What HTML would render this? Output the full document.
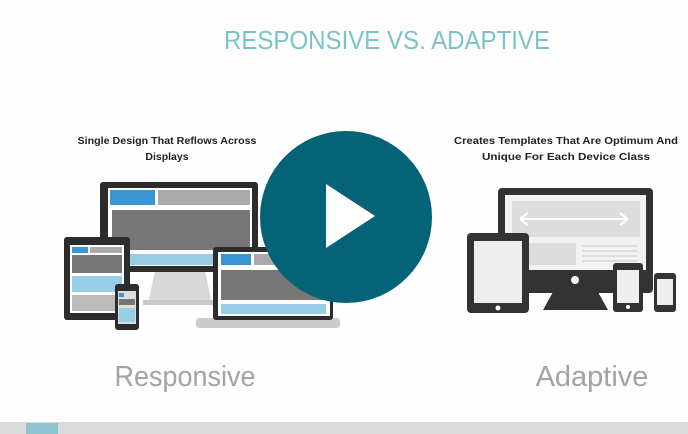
<!DOCTYPE html>
<html><head><style>html,body{margin:0;padding:0;background:#fff}svg{display:block}</style></head>
<body>
<svg width="688" height="434" viewBox="0 0 688 434" xmlns="http://www.w3.org/2000/svg" font-family="Liberation Sans, sans-serif">
<rect width="688" height="434" fill="#fefefe"/>
<text x="387" y="49" font-size="26" fill="#7cc3c8" text-anchor="middle" textLength="326" lengthAdjust="spacingAndGlyphs">RESPONSIVE VS. ADAPTIVE</text>
<g font-size="10.5" font-weight="bold" fill="#222" text-anchor="middle">
<text x="167" y="144" textLength="179" lengthAdjust="spacingAndGlyphs">Single Design That Reflows Across</text>
<text x="167" y="160">Displays</text>
<text x="566" y="144" textLength="224" lengthAdjust="spacingAndGlyphs">Creates Templates That Are Optimum And</text>
<text x="566" y="160" textLength="168" lengthAdjust="spacingAndGlyphs">Unique For Each Device Class</text>
</g>
<!-- responsive monitor -->
<path d="M155 270 h50 l6 30 h-62z" fill="#d8d8d8"/>
<rect x="143" y="300" width="72" height="5" fill="#c8c8c8"/>
<rect x="100" y="182" width="158" height="90" rx="3" fill="#2c2c2c"/>
<rect x="108" y="188" width="144" height="78" fill="#fff"/>
<rect x="110" y="190" width="45" height="15" fill="#3b95d3"/>
<rect x="158" y="190" width="92" height="15" fill="#aaa"/>
<rect x="112" y="210" width="138" height="40" fill="#777"/>
<rect x="112" y="254" width="138" height="11" fill="#98cde6"/>
<!-- tablet -->
<rect x="64" y="237" width="66" height="83" rx="3" fill="#2c2c2c"/>
<rect x="70" y="245" width="54" height="68" fill="#fff"/>
<rect x="72" y="247" width="16" height="6" fill="#3b95d3"/>
<rect x="90" y="247" width="32" height="6" fill="#aaa"/>
<rect x="72" y="255" width="50" height="18" fill="#777"/>
<rect x="72" y="276" width="50" height="16" fill="#98cde6"/>
<rect x="72" y="295" width="50" height="16" fill="#bbb"/>
<!-- phone -->
<rect x="115" y="284" width="24" height="46" rx="3" fill="#2c2c2c"/>
<rect x="118" y="291" width="18" height="33" fill="#ddd"/>
<rect x="119" y="293" width="5" height="4" fill="#3b95d3"/>
<rect x="119" y="299" width="16" height="6" fill="#777"/>
<rect x="119" y="308" width="16" height="14" fill="#98cde6"/>
<!-- laptop -->
<rect x="196" y="318" width="144" height="10" rx="3" fill="#ccc"/>
<rect x="213" y="247" width="120" height="73" rx="3" fill="#2c2c2c"/>
<rect x="218" y="252" width="112" height="64" fill="#fff"/>
<rect x="221" y="254" width="30" height="11" fill="#3b95d3"/>
<rect x="254" y="254" width="70" height="11" fill="#aaa"/>
<rect x="221" y="270" width="105" height="30" fill="#777"/>
<rect x="221" y="304" width="105" height="10" fill="#98cde6"/>
<!-- adaptive monitor -->
<path d="M553 292 h45 l10 18 h-65z" fill="#333"/>
<rect x="498" y="188" width="155" height="105" rx="4" fill="#333"/>
<rect x="505" y="195" width="141" height="75" fill="#f2f2f2"/>
<rect x="512" y="201" width="128" height="36" fill="#ddd"/>
<path d="M520 219 h108 M520 219 l8 -6 M520 219 l8 6 M628 219 l-8 -6 M628 219 l-8 6" stroke="#fff" stroke-width="2" fill="none"/>
<rect x="528" y="243" width="48" height="22" fill="#ddd"/>
<path d="M582 246 h55 M582 251 h55 M582 256 h55 M582 261 h55" stroke="#ddd" stroke-width="2"/>
<circle cx="575" cy="280" r="4" fill="#fff"/>
<!-- adaptive tablet -->
<rect x="467" y="233" width="62" height="80" rx="4" fill="#333"/>
<rect x="474" y="241" width="48" height="62" fill="#eee"/>
<circle cx="498" cy="308" r="2.5" fill="#fff"/>
<rect x="613" y="263" width="30" height="49" rx="3" fill="#333"/>
<rect x="617" y="270" width="22" height="33" fill="#eee"/>
<circle cx="628" cy="307" r="2" fill="#fff"/>
<rect x="654" y="273" width="22" height="39" rx="3" fill="#333"/>
<rect x="657" y="279" width="16" height="26" fill="#eee"/>
<!-- play -->
<circle cx="346" cy="217" r="86" fill="#046377"/>
<path d="M326 184 L326 248 L375 216z" fill="#fff"/>
<text x="185" y="386" font-size="29" fill="#a3a3a3" text-anchor="middle" textLength="141" lengthAdjust="spacingAndGlyphs">Responsive</text>
<text x="592" y="386" font-size="29" fill="#a3a3a3" text-anchor="middle">Adaptive</text>
<rect x="0" y="422" width="688" height="12" fill="#dadada"/>
<rect x="26" y="423" width="32" height="11" fill="#8cc4cf"/>
</svg>
</body></html>
